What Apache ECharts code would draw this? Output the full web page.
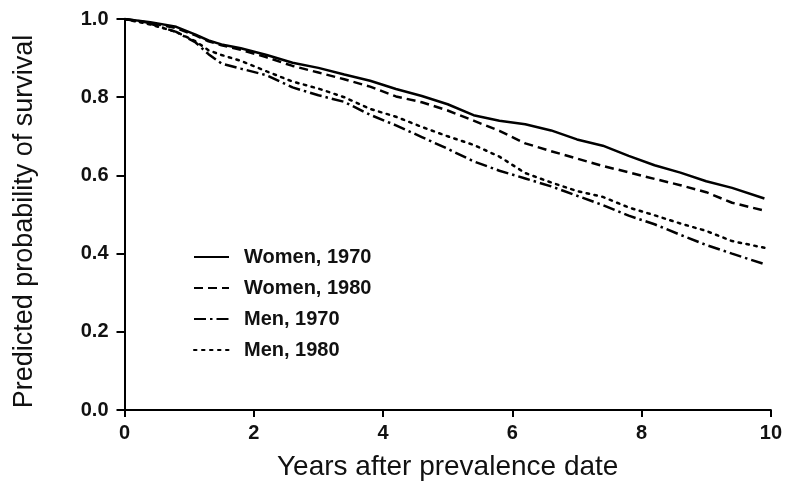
<!DOCTYPE html>
<html>
<head>
<meta charset="utf-8">
<script src="https://cdn.jsdelivr.net/npm/echarts@6/dist/echarts.min.js"></script>
<style>html,body{margin:0;padding:0;background:#fff}#c{width:785px;height:488px}</style>
</head>
<body>
<div id="c"></div>
<script>
const years = [0,0.4,0.8,1.1,1.3,1.5,1.8,2.2,2.6,3.0,3.4,3.8,4.2,4.6,5.0,5.4,5.8,6.2,6.6,7.0,7.4,7.8,8.2,8.6,9.0,9.4,9.9];
const women1970 = [1.0,0.992,0.980,0.960,0.945,0.935,0.925,0.908,0.888,0.875,0.858,0.842,0.821,0.803,0.782,0.754,0.740,0.731,0.715,0.692,0.676,0.650,0.626,0.607,0.585,0.568,0.541];
const women1980 = [1.0,0.990,0.977,0.958,0.943,0.933,0.921,0.902,0.880,0.863,0.846,0.827,0.802,0.787,0.766,0.740,0.714,0.682,0.662,0.643,0.624,0.608,0.591,0.575,0.557,0.530,0.510];
const men1970 = [1.0,0.988,0.967,0.940,0.910,0.886,0.873,0.856,0.825,0.805,0.788,0.755,0.728,0.698,0.668,0.636,0.612,0.592,0.572,0.548,0.524,0.497,0.475,0.448,0.422,0.400,0.373];
const men1980 = [1.0,0.986,0.967,0.943,0.920,0.908,0.893,0.866,0.840,0.822,0.800,0.770,0.750,0.724,0.700,0.678,0.648,0.606,0.582,0.560,0.545,0.518,0.498,0.477,0.458,0.432,0.415];
const seriesNames = ['Women, 1970','Women, 1980','Men, 1970','Men, 1980'];
const xTicks = [0,2,4,6,8,10];
const yTicks = [0.0,0.2,0.4,0.6,0.8,1.0];

const pairs = ys => years.map((x,i)=>[x,ys[i]]);
const dashes = ['solid',[9,5],[12,4,2.5,4],[2.5,5.5]];
const values = [women1970,women1980,men1970,men1980];
const font = 'Liberation Sans, Arial, Helvetica, sans-serif';

const chart = echarts.init(document.getElementById('c'), null, {renderer:'canvas'});
chart.setOption({
  animation:false,
  backgroundColor:'#fff',
  grid:{left:124.5,right:14,top:19,bottom:78},
  legend:{
    orient:'vertical', left:188, top:242,
    itemWidth:35, itemHeight:14, itemGap:11,
    data:seriesNames,
    itemStyle:{opacity:0},
    textStyle:{fontFamily:font,fontSize:20,fontWeight:'bold',color:'#111',padding:[0,0,0,10]}
  },
  xAxis:{
    type:'value', min:0, max:10, interval:2,
    name:'Years after prevalence date', nameLocation:'middle', nameGap:43,
    nameTextStyle:{fontFamily:font,fontSize:28,color:'#111'},
    axisLine:{lineStyle:{color:'#000',width:2}},
    axisTick:{show:true,length:7,lineStyle:{color:'#000',width:2}},
    axisLabel:{fontFamily:font,fontSize:20,fontWeight:'bold',color:'#111',margin:13,formatter:v=>xTicks.includes(v)?String(v):''},
    splitLine:{show:false}
  },
  yAxis:{
    type:'value', min:0, max:1, interval:0.2,
    name:'Predicted probability of survival', nameLocation:'middle', nameGap:86, nameRotate:90,
    nameTextStyle:{fontFamily:font,fontSize:27,color:'#111',padding:[0,14,0,0]},
    axisLine:{show:true,lineStyle:{color:'#000',width:2}},
    axisTick:{show:true,length:8,lineStyle:{color:'#000',width:2}},
    axisLabel:{fontFamily:font,fontSize:20,fontWeight:'bold',color:'#111',margin:16,formatter:v=>yTicks.some(t=>Math.abs(t-v)<1e-9)?v.toFixed(1):''},
    splitLine:{show:false}
  },
  series:values.map((ys,i)=>({
    name:seriesNames[i], type:'line', data:pairs(ys), symbol:'none', smooth:false,
    lineStyle:{color:'#000',width:2.5,type:dashes[i],cap:i===3?'round':'butt'},
    itemStyle:{color:'#000'}
  }))
});
</script>
</body>
</html>
